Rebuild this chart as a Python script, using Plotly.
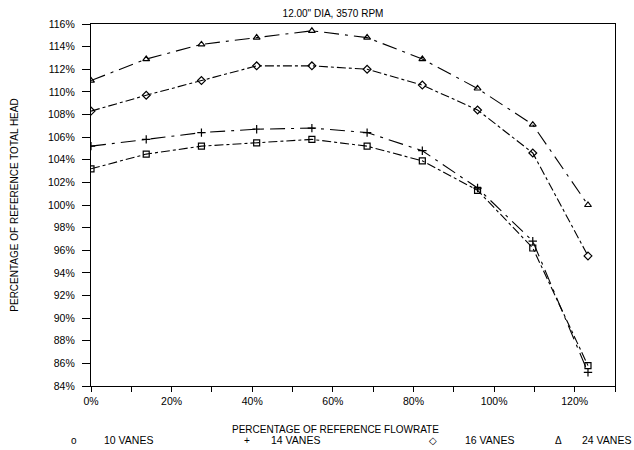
import plotly.graph_objects as go

flow = [0, 13.7, 27.4, 41.1, 54.8, 68.5, 82.2, 95.9, 109.6, 123.3]
vanes10 = [103.2, 104.5, 105.2, 105.5, 105.8, 105.2, 103.9, 101.3, 96.2, 85.8]
vanes14 = [105.2, 105.8, 106.4, 106.7, 106.8, 106.4, 104.8, 101.5, 96.8, 85.2]
vanes16 = [108.3, 109.7, 111.0, 112.3, 112.3, 112.0, 110.6, 108.4, 104.6, 95.5]
vanes24 = [111.0, 112.9, 114.2, 114.8, 115.4, 114.8, 112.9, 110.3, 107.1, 100.0]
series_names = ["10 VANES", "14 VANES", "16 VANES", "24 VANES"]
legend_symbols = ["o", "+", "◇", "Δ"]
y_ticks = list(range(84, 117, 2))
x_ticks = list(range(0, 121, 20))

series = [
    (vanes10, "square-open", "dashdot"),
    (vanes14, "cross-thin-open", "longdashdot"),
    (vanes16, "diamond-open", "dashdot"),
    (vanes24, "triangle-up-open", "longdashdot"),
]

fig = go.Figure()
for (vals, sym, dash), name in zip(series, series_names):
    fig.add_trace(go.Scatter(
        x=flow, y=vals, mode="lines+markers", name=name,
        line=dict(color="black", width=1.1, dash=dash),
        marker=dict(symbol=sym, size=6, color="black",
                    line=dict(color="black", width=1.2)),
        showlegend=False,
    ))

font = dict(family="Liberation Sans, Arial, sans-serif", size=10, color="black")
L, R, T, B, W, H = 91, 19, 24, 64, 634, 450
PW = W - L - R

def px_to_paper(px):
    return (px - L) / PW

fig.update_layout(
    width=W, height=H,
    margin=dict(l=L, r=R, t=T, b=B, autoexpand=False),
    paper_bgcolor="white", plot_bgcolor="white",
    font=font,
    title=dict(text="12.00\" DIA, 3570 RPM", x=333 / W, xanchor="center",
               y=1 - 13 / H, yanchor="middle", font=dict(size=10)),
    xaxis=dict(range=[0, 130], tickvals=x_ticks,
               ticktext=[f"{v}%" for v in x_ticks],
               showline=True, linecolor="black", linewidth=1.3, mirror=True,
               ticks="outside", ticklen=5, tickcolor="black",
               minor=dict(dtick=10, ticks="outside", ticklen=5, tickcolor="black"),
               showgrid=False, zeroline=False, automargin=False,
               tickfont=dict(size=10.5)),
    yaxis=dict(range=[84, 116], tickvals=y_ticks,
               ticktext=[f"{v}%" for v in y_ticks],
               showline=True, linecolor="black", linewidth=1.3, mirror=True,
               ticks="outside", ticklen=8, tickcolor="black",
               ticklabelstandoff=5,
               showgrid=False, zeroline=False, automargin=False,
               tickfont=dict(size=10.5),
               title=dict(text="PERCENTAGE OF REFERENCE TOTAL HEAD", standoff=27,
                          font=dict(size=10))),
)

# x-axis title (positioned as in the reference, slightly left of centre)
fig.add_annotation(xref="paper", yref="paper", x=px_to_paper(335), y=0, yshift=-43,
                   xanchor="center", yanchor="middle", showarrow=False,
                   text="PERCENTAGE OF REFERENCE FLOWRATE", font=dict(size=10))

sym_px = [74, 247, 433, 558]
txt_px = [102, 269, 463, 580]
for sp, tp, s, name in zip(sym_px, txt_px, legend_symbols, series_names):
    fig.add_annotation(xref="paper", yref="paper", x=px_to_paper(sp), y=0, yshift=-54,
                       xanchor="center", yanchor="middle", showarrow=False,
                       text=s, font=dict(size=10))
    fig.add_annotation(xref="paper", yref="paper", x=px_to_paper(tp), y=0, yshift=-54,
                       xanchor="left", yanchor="middle", showarrow=False,
                       text=name, font=dict(size=10.5))

fig.write_html("out.html", config={"displayModeBar": False},
               post_script="document.body.style.margin='0';document.body.style.overflow='hidden';")
